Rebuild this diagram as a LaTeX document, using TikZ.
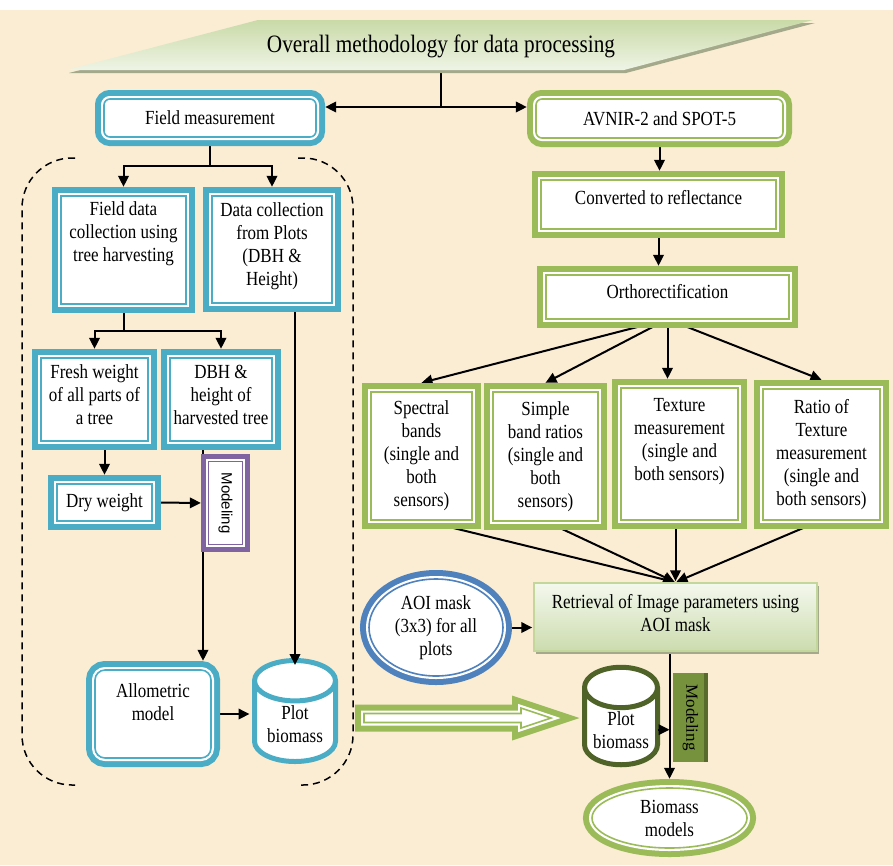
\documentclass[tikz,border=0pt]{standalone}
\usepackage{fontspec}
\setmainfont{Liberation Serif}[FakeStretch=0.85]
\newfontfamily\plainserif{Liberation Serif}
\newfontfamily\plainsans{Liberation Sans}
\usepackage{graphicx}
\usetikzlibrary{arrows.meta,shapes.geometric,calc,shadows}
\pgfdeclarelayer{bgl}\pgfdeclarelayer{edges}
\pgfsetlayers{bgl,edges,main}
\definecolor{bgc}{HTML}{FAEDD3}
\definecolor{aqua}{HTML}{4BACC6}
\definecolor{olv}{HTML}{9BBB59}
\definecolor{purp}{HTML}{8064A2}
\definecolor{blu}{HTML}{4F81BD}
\definecolor{dkolv}{HTML}{4F6228}
\definecolor{mdolv}{HTML}{76923C}
\definecolor{shd}{HTML}{A3A98A}
\definecolor{ttop}{HTML}{C9DAA7}
\definecolor{tbot}{HTML}{EFF4E6}
\definecolor{rtop}{HTML}{F4F8EE}
\definecolor{rbot}{HTML}{CCDCAE}
\definecolor{rbrd}{HTML}{C3D69B}
\newcommand{\padb}[1]{\\[#1]\mbox{}}
\tikzset{
  every node/.style={font=\fontsize{20}{23}\selectfont, text=black},
  dbox/.style={fill=white, preaction={draw=#1, line width=18pt},
    postaction={draw=white, line width=6pt}, postaction={draw=#1, line width=1.6pt},
    inner sep=2pt, align=center},
  pbox/.style={fill=white, preaction={draw=#1, line width=15pt},
    postaction={draw=white, line width=4.5pt}, postaction={draw=#1, line width=1.5pt},
    inner sep=1pt, align=center},
  cyl/.style={cylinder, shape border rotate=90, aspect=0.7, draw=#1, line width=5pt,
    fill=white, align=center, inner sep=1pt, anchor=shape center},
  arr/.style={draw=black, line width=2pt, -{Triangle[length=11pt,width=10.5pt]}},
  darr/.style={draw=black, line width=2pt, {Triangle[length=11pt,width=10.5pt]}-{Triangle[length=11pt,width=10.5pt]}},
  plain/.style={draw=black, line width=2pt},
  dashb/.style={draw=black, line width=1.5pt, dash pattern=on 7pt off 5pt, rounded corners=50pt},
}
\begin{document}
\begin{tikzpicture}[x=1pt,y=-1pt]
\begin{pgfonlayer}{bgl}
\fill[white] (0,0) rectangle (893,865);
\fill[bgc] (0,10) rectangle (893,865);
\end{pgfonlayer}
\useasboundingbox (0,0) rectangle (893,865);

% title
\path[general shadow={fill=shd, shadow xshift=2pt, shadow yshift=-3pt},
  top color=ttop, bottom color=tbot]
  (67,70) -- (258,20) -- (813,20) -- (624,70) -- cycle;
\node[font=\fontsize{25}{30}\selectfont] (title) at (441,46) {Overall methodology for data processing};
\coordinate (tb) at (441,70);
\coordinate (j0) at (441,107);

% left column
\node[dbox=aqua, rounded corners=6pt, minimum width=212pt, minimum height=38pt] (fm) at (210,118) {Field measurement};
\node[dbox=olv, rounded corners=6pt, minimum width=247pt, minimum height=39pt] (av) at (659.5,118.5) {AVNIR-2 and SPOT-5};
\coordinate (j1) at (210,166);
\node[dbox=aqua, minimum width=125pt, minimum height=108pt] (fd) at (123.5,250) {Field data\\collection using\\tree harvesting\padb{14pt}};
\node[dbox=aqua, minimum width=120pt, minimum height=107pt] (dc) at (272,249.5) {Data collection\\from Plots\\(DBH \&\\Height)\padb{-12pt}};
\coordinate (j2) at (123.5,331);
\node[dbox=aqua, minimum width=107pt, minimum height=83pt] (fw) at (94.5,399.5) {Fresh weight\\of all parts of\\a tree\padb{-13pt}};
\node[dbox=aqua, minimum width=102pt, minimum height=83pt] (dbh) at (221,399.5) {DBH \&\\height of\\harvested tree\padb{-13pt}};
\node[dbox=aqua, minimum width=95pt, minimum height=37pt] (dw) at (104.5,502.5) {Dry weight};
\node[pbox=purp, minimum width=34pt, minimum height=83pt] (mod1) at (225.5,503) {\rotatebox{-90}{\plainsans\fontsize{15}{17}\selectfont Modeling}};
\coordinate (m1x) at (203,0);
\node[dbox=aqua, rounded corners=10pt, minimum width=116pt, minimum height=88pt] (al) at (153,714) {Allometric\\model\padb{1pt}};
\node[cyl=aqua, minimum width=81pt, minimum height=101pt] (pb1) at (295,711) {Plot\\biomass};

% right column
\node[dbox=olv, minimum width=235pt, minimum height=49pt] (conv) at (658.5,204.5) {Converted to reflectance\padb{-8pt}};
\node[dbox=olv, minimum width=243pt, minimum height=44pt] (orth) at (667.5,297) {Orthorectification\padb{-11pt}};
\node[dbox=olv, minimum width=101pt, minimum height=128pt] (sb) at (421.5,456) {Spectral\\bands\\(single and\\both\\sensors)};
\node[dbox=olv, minimum width=105pt, minimum height=129pt] (sr) at (545.5,456.5) {Simple\\band ratios\\(single and\\both\\sensors)};
\node[dbox=olv, minimum width=117pt, minimum height=132pt] (tm) at (679.5,454) {Texture\\measurement\\(single and\\both sensors)\padb{7pt}};
\node[dbox=olv, minimum width=117pt, minimum height=131pt] (rt) at (821.5,454.5) {Ratio of\\Texture\\measurement\\(single and\\both sensors)};
\node[draw=rbrd, line width=1.5pt, top color=rtop, bottom color=rbot,
  general shadow={fill=shd, shadow xshift=2pt, shadow yshift=-3pt},
  minimum width=283pt, minimum height=68pt, align=center, inner sep=2pt] (ret) at (675.5,617)
  {Retrieval of Image parameters using\\AOI mask\padb{-15pt}};
\node[dbox=blu, ellipse, minimum width=134pt, minimum height=97pt, inner sep=0pt] (aoi) at (436,627.5) {AOI mask\\(3x3) for all\\plots};
\node[cyl=dkolv, minimum width=73pt, minimum height=84pt] (pb2) at (621,716) {Plot\\biomass};
\node[fill=mdolv, minimum width=35pt, minimum height=89pt, inner sep=0pt,
  path picture={\fill[dkolv!80!mdolv] ($(path picture bounding box.north east)+(-4pt,0)$) rectangle (path picture bounding box.south east);}]
  (mod2) at (690.5,717.5) {\rotatebox{-90}{\plainserif\fontsize{17}{19}\selectfont Modeling}};
\node[dbox=olv, ellipse, minimum width=155pt, minimum height=60pt, inner sep=0pt] (bm) at (669.5,818) {Biomass\\models};

% big hollow arrow
\path[dbox=olv] (364,713.5) -- (521,713.5) -- (521,708) -- (551,718) -- (521,728) -- (521,722.5) -- (364,722.5) -- cycle;

% connectors
\begin{pgfonlayer}{edges}
\draw[plain] (tb) -- (j0);
\draw[darr, shorten <=9pt, shorten >=9pt] (fm.east |- j0) -- (av.west |- j0);
\draw[plain] (fm.south) -- (j1);
\draw[arr, shorten >=9pt] (j1) -| (fd.north);
\draw[arr, shorten >=9pt] (j1) -| (dc.north);
\draw[plain] (fd.south) -- (j2);
\draw[arr, shorten >=9pt] (j2) -| (fw.north);
\draw[arr, shorten >=9pt] (j2) -| (dbh.north);
\draw[arr, shorten >=9pt] (dw.north |- fw.south) -- (dw.north);
\draw[arr, shorten >=7.5pt] (dw.east) -- (mod1.west);
\draw[arr, shorten >=9pt] (m1x |- dbh.south) -- (m1x |- al.north);
\draw[arr, shorten >=2.5pt] (al.east) -- (al.east -| pb1.west);
\draw[arr, shorten >=9pt] (av.south) -- (av.south |- conv.north);
\draw[arr, shorten >=9pt] (conv.south) -- (conv.south |- orth.north);
\draw[arr] (orth.south) -- ($(sb.north)+(0,-9)$);
\draw[arr] (orth.south) -- ($(sr.north)+(0,-9)$);
\draw[arr, shorten >=9pt] (orth.south) -- (orth.south |- tm.north);
\draw[arr] (orth.south) -- ($(rt.north)+(0,-9)$);
\draw[arr, shorten >=1pt] (sb.south) -- (ret.north);
\draw[arr, shorten >=1pt] (sr.south) -- (ret.north);
\draw[arr, shorten >=1pt] (ret.north |- tm.south) -- (ret.north);
\draw[arr, shorten >=1pt] (rt.south) -- (ret.north);
\draw[arr, shorten >=1pt] (aoi.east) -- (aoi.east -| ret.west);
\draw[arr, shorten >=9pt] (ret.south -| bm.north) -- (bm.north);
\draw[dashb] (75,158) -- (22,158) -- (22,785) -- (75,785);
\draw[dashb] (298,158) -- (353,158) -- (353,785) -- (298,785);
\end{pgfonlayer}
\draw[arr, shorten <=9pt] (dc.south -| pb1.north) -- ($(pb1.north)+(0,7)$);
\draw[arr, shorten <=2.5pt] (pb2.east) -- (pb2.east -| bm.north);
\end{tikzpicture}
\end{document}
